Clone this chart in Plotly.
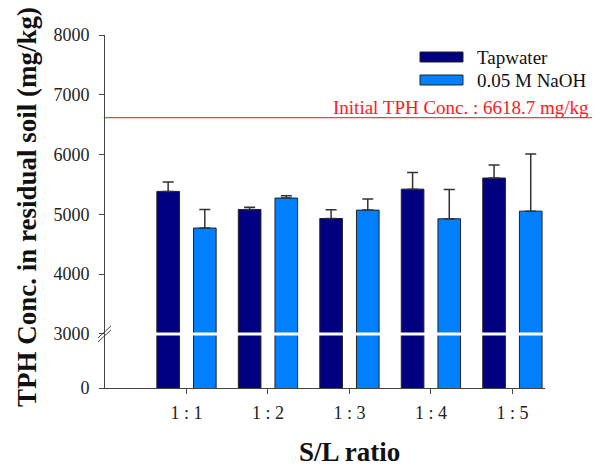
import plotly.graph_objects as go

categories = ["1 : 1", "1 : 2", "1 : 3", "1 : 4", "1 : 5"]
tapwater = [5384, 5082, 4931, 5422, 5608]
tapwater_err = [157, 35, 146, 280, 218]
naoh = [4771, 5273, 5071, 4926, 5054]
naoh_err = [311, 39, 184, 491, 956]
initial_tph = 6618.7
y_ticks = [0, 3000, 4000, 5000, 6000, 7000, 8000]

BREAK = 3000
AXIS_BOTTOM = 2096  # display position of value 0 (compressed 0-3000 segment)

def disp(v):
    return v if v >= BREAK else AXIS_BOTTOM + v * (BREAK - AXIS_BOTTOM) / BREAK

FONT = "Liberation Serif, Times New Roman, serif"
NAVY = "#000080"
LBLUE = "#0080FF"

fig = go.Figure()
fig.add_trace(go.Bar(
    x=categories, y=tapwater, name="Tapwater",
    marker=dict(color=NAVY, line=dict(color="#222222", width=1)),
    error_y=dict(type="data", symmetric=False, array=tapwater_err,
                 arrayminus=[0] * len(tapwater), color="#333333", thickness=1.5, width=5.5),
))
fig.add_trace(go.Bar(
    x=categories, y=naoh, name="0.05 M NaOH",
    marker=dict(color=LBLUE, line=dict(color="#222222", width=1)),
    error_y=dict(type="data", symmetric=False, array=naoh_err,
                 arrayminus=[0] * len(naoh), color="#333333", thickness=1.5, width=5.5),
))

shapes = []
# axis break: white band across bars
shapes.append(dict(type="line", xref="paper", yref="y", x0=0.003, x1=1.0, y0=BREAK, y1=BREAK,
                   line=dict(color="white", width=3), layer="above"))
# break marks "//" on y-axis
for dy in (-2, 2):
    shapes.append(dict(type="line", xref="paper", yref="y",
                       xsizemode="pixel", xanchor=0, x0=-7, x1=6,
                       ysizemode="pixel", yanchor=BREAK, y0=-6 + dy, y1=6 + dy,
                       line=dict(color="#444444", width=1), layer="above"))
# initial TPH line
shapes.append(dict(type="line", xref="paper", yref="y", x0=0, x1=1.107,
                   y0=initial_tph, y1=initial_tph,
                   line=dict(color="#FF4040", width=1.2), layer="below"))
# legend boxes
shapes.append(dict(type="rect", xref="paper", yref="paper",
                   x0=(420 - 105) / 440, x1=(463 - 105) / 440,
                   y0=(388 - 62) / 353, y1=(388 - 52) / 353,
                   fillcolor=NAVY, line=dict(color="#222222", width=1)))
shapes.append(dict(type="rect", xref="paper", yref="paper",
                   x0=(420 - 105) / 440, x1=(463 - 105) / 440,
                   y0=(388 - 85) / 353, y1=(388 - 75) / 353,
                   fillcolor=LBLUE, line=dict(color="#222222", width=1)))

annotations = [
    dict(text="Tapwater", xref="paper", yref="paper", x=(475 - 105) / 440, y=(388 - 57) / 353,
         xanchor="left", yanchor="middle", showarrow=False, font=dict(family=FONT, size=19, color="#111111")),
    dict(text="0.05 M NaOH", xref="paper", yref="paper", x=(475 - 105) / 440, y=(388 - 80) / 353,
         xanchor="left", yanchor="middle", showarrow=False, font=dict(family=FONT, size=19, color="#111111")),
    dict(text=f"Initial TPH Conc. : {initial_tph} mg/kg", xref="paper", yref="y",
         x=(591 - 105) / 440, y=initial_tph, xanchor="right", yanchor="bottom", yshift=-2,
         showarrow=False, font=dict(family=FONT, size=19, color="#FF1A1A")),
    dict(text="<b>S/L ratio</b>", xref="x", yref="paper", x=2, y=(388 - 452) / 353,
         xanchor="center", yanchor="middle", showarrow=False, font=dict(family=FONT, size=27, color="#111111")),
    dict(text="<b>TPH Conc. in residual soil (mg/kg)</b>", xref="paper", yref="paper",
         x=(27 - 105) / 440, y=(388 - 207) / 353, textangle=-90,
         xanchor="center", yanchor="middle", showarrow=False, font=dict(family=FONT, size=27, color="#111111")),
]

fig.update_layout(
    width=600, height=468,
    margin=dict(l=105, r=55, t=35, b=80),
    paper_bgcolor="white", plot_bgcolor="white",
    barmode="group", bargap=0.1, bargroupgap=0.383,
    showlegend=False,
    shapes=shapes, annotations=annotations,
    font=dict(family=FONT, size=18, color="#222222"),
)
fig.update_xaxes(
    range=[-1.0, 4.4], showline=True, linecolor="#444444", linewidth=1,
    ticks="outside", ticklen=5, tickcolor="#444444", showgrid=False, zeroline=False,
    ticklabelstandoff=3,
    tickfont=dict(family=FONT, size=18, color="#222222"),
)
fig.update_yaxes(
    range=[AXIS_BOTTOM, 8000], showline=True, linecolor="#444444", linewidth=1,
    ticks="outside", ticklen=5, tickcolor="#444444", showgrid=False, zeroline=False,
    ticklabelstandoff=6,
    tickvals=[disp(v) for v in y_ticks], ticktext=[str(v) for v in y_ticks],
    tickfont=dict(family=FONT, size=18, color="#222222"),
)

fig.write_html("out.html", config={"displayModeBar": False},
               post_script="document.body.style.margin='0px';")
